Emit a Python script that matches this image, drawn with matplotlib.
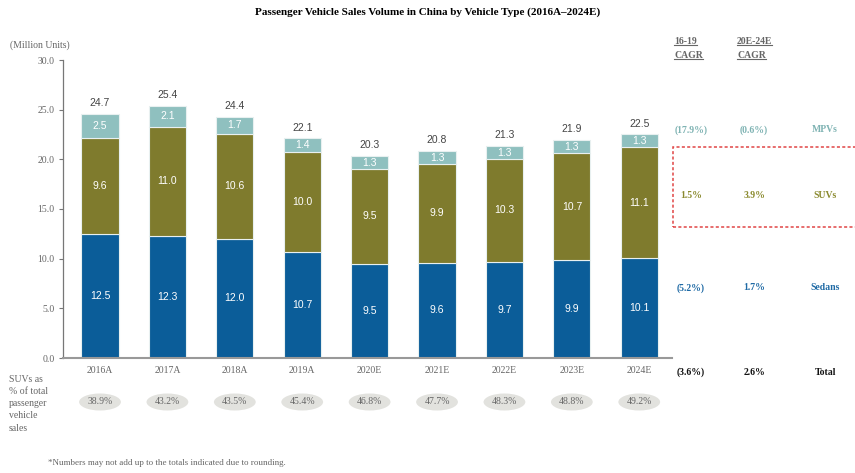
import matplotlib.pyplot as plt
from matplotlib.patches import Ellipse, Rectangle
from matplotlib.lines import Line2D
from matplotlib.transforms import blended_transform_factory

years = ["2016A", "2017A", "2018A", "2019A", "2020E", "2021E", "2022E", "2023E", "2024E"]
sedans = [12.5, 12.3, 12.0, 10.7, 9.5, 9.6, 9.7, 9.9, 10.1]
suvs = [9.6, 11.0, 10.6, 10.0, 9.5, 9.9, 10.3, 10.7, 11.1]
mpvs = [2.5, 2.1, 1.7, 1.4, 1.3, 1.3, 1.3, 1.3, 1.3]
totals = [24.7, 25.4, 24.4, 22.1, 20.3, 20.8, 21.3, 21.9, 22.5]
suv_share = ["38.9%", "43.2%", "43.5%", "45.4%", "46.8%", "47.7%", "48.3%", "48.8%", "49.2%"]

segments = ["MPVs", "SUVs", "Sedans", "Total"]
cagr_16_19 = ["(17.9%)", "1.5%", "(5.2%)", "(3.6%)"]
cagr_20_24 = ["(0.6%)", "3.9%", "1.7%", "2.6%"]

c_sedan = "#0b5d99"
c_suv = "#7f7b2d"
c_mpv = "#8fc0bf"
seg_colors = ["#7fb3b3", "#8a8a2e", "#1f6aa5", "#111111"]
grey = "#666666"
serif = "Liberation Serif"
sans = "Liberation Sans"

W, H = 855, 473
fig = plt.figure(figsize=(W / 100, H / 100), dpi=100)
ax = fig.add_axes([63 / W, 115 / H, 609 / W, 298 / H])

x = list(range(len(years)))
bw = 0.55
edge = "#e8f0f0"
ax.bar(x, sedans, bw, color=c_sedan, edgecolor=edge, linewidth=0.8)
ax.bar(x, suvs, bw, bottom=sedans, color=c_suv, edgecolor=edge, linewidth=0.8)
base2 = [a + b for a, b in zip(sedans, suvs)]
ax.bar(x, mpvs, bw, bottom=base2, color=c_mpv, edgecolor=edge, linewidth=0.8)

for i in x:
    ax.text(i, sedans[i] / 2, f"{sedans[i]:.1f}", ha="center", va="center",
            color="white", fontsize=7.5, family=sans)
    ax.text(i, sedans[i] + suvs[i] / 2, f"{suvs[i]:.1f}", ha="center", va="center",
            color="white", fontsize=7.5, family=sans)
    ax.text(i, base2[i] + mpvs[i] / 2, f"{mpvs[i]:.1f}", ha="center", va="center",
            color="white", fontsize=7.5, family=sans)
    ax.text(i, base2[i] + mpvs[i] + 0.6, f"{totals[i]:.1f}", ha="center", va="bottom",
            color="#444444", fontsize=7.5, family=sans)

ax.set_xlim(-0.549, 8.486)
ax.set_ylim(0, 30)
ax.set_yticks([0, 5, 10, 15, 20, 25, 30])
ax.set_yticklabels([f"{v:.1f}" for v in [0, 5, 10, 15, 20, 25, 30]],
                   family=serif, fontsize=7, color=grey)
ax.set_xticks(x)
ax.set_xticklabels(years, family=serif, fontsize=7, color=grey)
ax.tick_params(axis="x", length=0, pad=6)
ax.tick_params(axis="y", length=3, color="#777777", pad=3)
for s in ["top", "right"]:
    ax.spines[s].set_visible(False)
ax.spines["left"].set_color("#777777")
ax.spines["left"].set_linewidth(0.9)
ax.spines["bottom"].set_color("#999999")
ax.spines["bottom"].set_linewidth(1.5)

fig.text(0.5, 1 - 12 / H, "Passenger Vehicle Sales Volume in China by Vehicle Type (2016A\u20132024E)",
         ha="center", va="center", family=serif, fontweight="bold", fontsize=8)
fig.text(10 / W, 1 - 45 / H, "(Million Units)", ha="left", va="center",
         family=serif, fontsize=7, color=grey)

# SUV share row
tr = blended_transform_factory(ax.transData, fig.transFigure)
for i in x:
    e = Ellipse((i, 1 - 402 / H), 0.62, 17 / H, transform=tr,
                facecolor="#e2e2de", edgecolor="none", clip_on=False)
    ax.add_artist(e)
    ax.text(i, 1 - 402 / H, suv_share[i], transform=tr, ha="center", va="center",
            family=serif, fontsize=7, color=grey, clip_on=False)
fig.text(9 / W, 1 - 375 / H, "SUVs as\n% of total\npassenger\nvehicle\nsales",
         ha="left", va="top", family=serif, fontsize=7, color=grey, linespacing=1.45)

fig.text(48 / W, 1 - 463 / H,
         "*Numbers may not add up to the totals indicated due to rounding.",
         ha="left", va="center", family=serif, fontsize=6.5, color=grey)

# CAGR columns
heads = [(674, "16-19"), (737, "20E-24E")]
fig.canvas.draw()
renderer = fig.canvas.get_renderer()
inv = fig.transFigure.inverted()
for xp, top in heads:
    for yp, txt in [(41, top), (55, "CAGR")]:
        t = fig.text(xp / W, 1 - yp / H, txt, ha="left", va="center", family=serif,
                     fontweight="bold", fontsize=7, color=grey)
        bb = t.get_window_extent(renderer)
        (x0, y0), (x1, y1) = inv.transform([(bb.x0, bb.y0), (bb.x1, bb.y1)])
        fig.add_artist(Line2D([x0, x1], [y0, y0], transform=fig.transFigure,
                              color=grey, linewidth=0.8))

row_y = [130, 195, 288, 372]
for k, seg in enumerate(segments):
    yy = 1 - row_y[k] / H
    fig.text(691 / W, yy, cagr_16_19[k], ha="center", va="center", family=serif,
             fontweight="bold", fontsize=7, color=seg_colors[k])
    fig.text(754 / W, yy, cagr_20_24[k], ha="center", va="center", family=serif,
             fontweight="bold", fontsize=7, color=seg_colors[k])
    fig.text(825 / W, yy, seg, ha="center", va="center", family=serif,
             fontweight="bold", fontsize=7, color=seg_colors[k])

fig.add_artist(Rectangle((673 / W, 1 - 227 / H), 200 / W, 80 / H, transform=fig.transFigure,
                         fill=False, edgecolor="#e04545", linestyle=(0, (2, 1.5)),
                         linewidth=1.1))

fig.savefig("out.png", dpi=100)
